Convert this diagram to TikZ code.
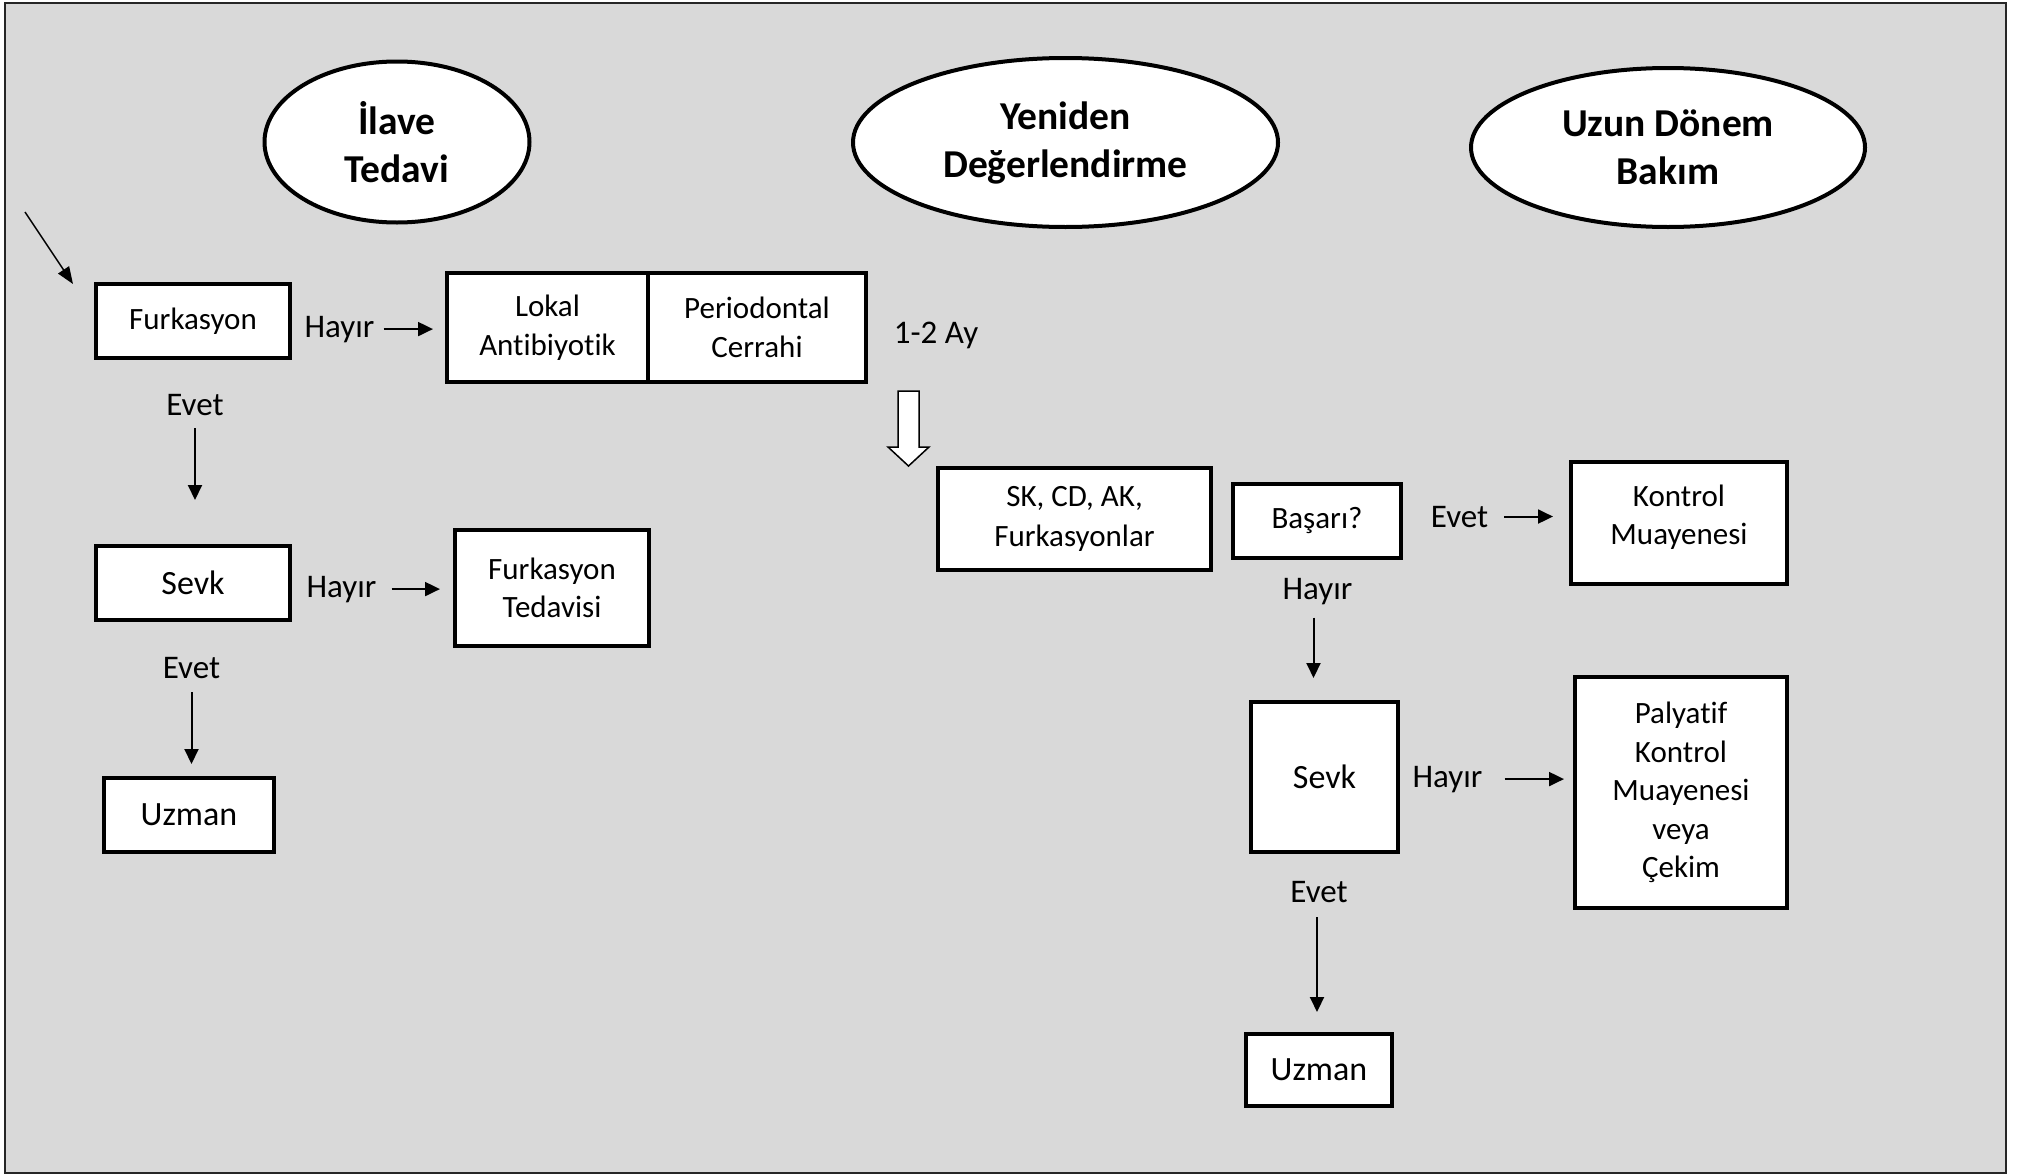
\documentclass[tikz,border=0pt]{standalone}
\usepackage{fontspec}
\setmainfont{Carlito}[RawFeature={-liga}]
\usetikzlibrary{arrows.meta,shapes.geometric}
\definecolor{panel}{HTML}{D9D9D9}

\begin{document}
\begin{tikzpicture}[x=1pt,y=-1pt,
  phase/.style={ellipse, draw, line width=4pt, fill=white, inner sep=0pt,
    align=center, font=\fontsize{39.5}{48}\selectfont\bfseries},
  stepbox/.style={draw, line width=4pt, fill=white, inner sep=0pt, outer sep=0pt,
    align=center, font=\fontsize{31}{38.5}\selectfont},
  bigtext/.style={font=\fontsize{34}{40}\selectfont},
  answer/.style={inner sep=0pt, anchor=base, font=\fontsize{33}{40}\selectfont},
  flow/.style={line width=2pt, -{Triangle[length=15pt,width=14pt]}},
]
\useasboundingbox (0,0) rectangle (2018,1175);

% panel
\draw[draw=black!85, line width=2.5pt, fill=panel] (5,3) rectangle (2006,1173);

% phase headings
\node[phase, minimum width=265pt, minimum height=161pt] (p1) at (397,142) {İlave\\Tedavi};
\node[phase, minimum width=425pt, minimum height=169pt] (p2) at (1065.5,142.5) {Yeniden\\Değerlendirme};
\node[phase, minimum width=394pt, minimum height=159pt, text depth=-5pt] (p3) at (1668,147.5) {Uzun Dönem\\Bakım};

% left column
\node[stepbox, minimum width=194pt, minimum height=74pt] (furk) at (193,321) {Furkasyon};
\node[stepbox, minimum width=201pt, minimum height=109pt] (lokal) at (547.5,327.5) {Lokal\\Antibiyotik};
\node[stepbox, minimum width=218pt, minimum height=109pt] (perio) at (757,327.5) {Periodontal\\Cerrahi};
\node[stepbox, bigtext, minimum width=194pt, minimum height=74pt] (sevkA) at (193,583) {Sevk};
\node[stepbox, minimum width=194pt, minimum height=116pt] (ftd) at (552,588) {Furkasyon\\Tedavisi};
\node[stepbox, bigtext, minimum width=170pt, minimum height=74pt] (uzmA) at (189,815) {Uzman};

% right part
\node[stepbox, font=\fontsize{31}{40}\selectfont, minimum width=273pt, minimum height=102pt]
  (olc) at (1074.5,519) {SK, CD, AK,\\Furkasyonlar};
\node[stepbox, minimum width=168pt, minimum height=74pt] (bas) at (1317,521) {Başarı?};
\node[stepbox, minimum width=216pt, minimum height=122pt, text depth=17pt] (kon) at (1679,523) {Kontrol\\Muayenesi};
\node[stepbox, bigtext, minimum width=147pt, minimum height=150pt] (sevkB) at (1324.5,777) {Sevk};
\node[stepbox, minimum width=212pt, minimum height=231pt] (pal) at (1681,792.5) {Palyatif\\Kontrol\\Muayenesi\\veya\\Çekim};
\node[stepbox, bigtext, minimum width=146pt, minimum height=72pt] (uzmB) at (1319,1070) {Uzman};

% answers
\node[answer] (h1) at (339.5,337) {Hayır};
\node[answer] (e1) at (195,415) {Evet};
\node[answer] (h2) at (341.5,597) {Hayır};
\node[answer] (e2) at (191.5,678) {Evet};
\node[answer] (ay) at (936,343) {1-2 Ay};
\node[answer] (e3) at (1459.5,527) {Evet};
\node[answer] (h3) at (1317.5,599) {Hayır};
\node[answer] (h4) at (1447.5,787) {Hayır};
\node[answer] (e4) at (1319,902) {Evet};

% connectors
\draw[flow, shorten <=9pt, shorten >=14pt] (h1.east) -- (h1.east -| lokal.west);
\draw[flow, shorten <=13pt, shorten >=46pt] (e1.south) -- (e1.south |- sevkA.north);
\draw[flow, shorten <=15pt, shorten >=15pt] (h2.east) -- (h2.east -| ftd.west);
\draw[flow, shorten <=14pt, shorten >=14pt] (e2.south) -- (e2.south |- uzmA.north);
\draw[flow, shorten <=16pt, shorten >=18pt] (e3.east) -- (e3.east -| kon.west);
\draw[flow, shorten <=13pt, shorten >=24pt] ([xshift=-4pt]h3.south) -- ([xshift=-4pt]h3.south |- sevkB.north);
\draw[flow, shorten <=22pt, shorten >=11pt] (h4.east) -- (h4.east -| pal.west);
\draw[flow, shorten <=15pt, shorten >=22pt] ([xshift=-2pt]e4.south) -- ([xshift=-2pt]e4.south |- uzmB.north);

% entry arrow
\coordinate (in0) at (25,212);
\coordinate (in1) at (73,284);
\draw[line width=1.5pt, -{Triangle[length=17pt,width=13pt]}] (in0) -- (in1);

% hollow block arrow towards the re-evaluation
\draw[line width=1.5pt, fill=white, line join=miter]
  (898,391) -- (919,391) -- (919,447) -- (929,447) -- (908.5,466)
  -- (888,447) -- (898,447) -- cycle;
\end{tikzpicture}
\end{document}
